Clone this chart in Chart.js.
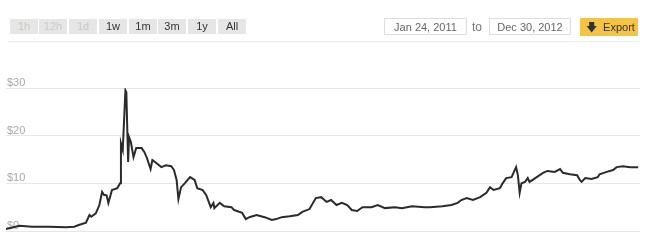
<!DOCTYPE html>
<html>
<head>
<meta charset="utf-8">
<script src="https://cdn.jsdelivr.net/npm/chart.js@4.4.1/dist/chart.umd.min.js"></script>
<style>
  html, body { margin:0; padding:0; background:#fff; width:651px; height:249px; overflow:hidden; font-family: Arial, "Liberation Sans", sans-serif; }
  #wrap { position:absolute; left:0; top:0; width:651px; height:249px; }
  .btn { position:absolute; top:19px; height:15px; width:28px; background:#e6e6e6; color:#333; font-size:11px; line-height:15px; text-align:center; }
  .btn.off { color:#c9c9c9; }
  .date { position:absolute; top:18px; border:1px solid #ddd; color:#666; font-size:11px; line-height:16px; text-align:center; background:#fff; box-sizing:border-box; height:17px; }
  #to { position:absolute; left:472px; top:19px; font-size:12px; color:#777; line-height:17px; }
  #export { position:absolute; left:580px; top:18px; width:58px; height:18px; background:#f6c444; color:#333; font-size:11px; line-height:18px; box-sizing:border-box; padding-left:6px; }
  #sep { position:absolute; left:8px; top:41px; width:632px; height:1px; background:#ececec; }
</style>
</head>
<body>
<div id="wrap"><canvas id="c" width="651" height="249"></canvas></div>
<div class="btn off" style="left:10px">1h</div>
<div class="btn off" style="left:39px">12h</div>
<div class="btn off" style="left:69px">1d</div>
<div class="btn" style="left:99px">1w</div>
<div class="btn" style="left:129px">1m</div>
<div class="btn" style="left:158px">3m</div>
<div class="btn" style="left:188px">1y</div>
<div class="btn" style="left:218px">All</div>
<div class="date" style="left:384px;width:83px">Jan 24, 2011</div>
<div id="to">to</div>
<div class="date" style="left:489px;width:82px">Dec 30, 2012</div>
<div id="export">&#129095;&nbsp; Export</div>
<div id="sep"></div>
<script>
// days since Jan 24, 2011 and price (USD)
const days = [0,15,29,48,67,76,81,89,93,95,100,104,107,109,112,114,118,124,127,128,130,133,134,135,136,137,139,142,145,151,154,157,161,163,167,173,178,184,187,190,192,195,199,205,210,213,219,223,228,231,232,238,243,251,254,263,267,271,279,288,296,301,307,316,325,330,338,345,351,357,362,368,374,380,385,391,397,407,414,422,433,441,452,466,472,486,496,503,507,513,520,528,535,539,543,550,553,557,563,568,570,572,574,578,581,583,591,598,603,611,617,620,628,636,639,641,645,652,659,661,669,676,680,687,695,704];
const prices = [0.42,1.1,0.9,0.9,0.78,0.9,1.25,1.75,3.35,3.0,3.7,5.45,8.2,7.6,7.5,5.9,8.6,9.0,10,18.4,17,29.5,29.1,21.8,14.5,19.7,18.7,15.5,17.4,17.4,16.6,15.3,13.0,14.9,14.3,13.4,13.8,13.6,12.8,10.7,6.7,9.2,10,11.3,10.7,9.0,8.6,7.5,5.0,5.9,4.8,5.9,5.2,5.0,4.4,3.8,2.5,2.9,3.35,2.9,2.3,2.5,2.9,3.1,3.35,4.0,4.6,6.9,7.1,6.1,6.5,5.45,5.9,5.45,4.4,4.2,5.0,5.0,5.45,4.8,5.0,4.8,5.2,5.0,5.0,5.2,5.45,5.9,6.5,6.9,6.5,7.1,8.0,9.2,8.6,9.0,10,11.1,11.3,13.4,11.7,8.0,10,10.3,11.1,10.3,11.3,12.2,12.6,12.4,13.0,12.2,11.9,11.7,10.7,10.3,11.1,10.9,11.3,11.9,12.4,12.8,13.4,13.6,13.4,13.4];
const yTicks = [0,10,20,30];

const points = days.map((d, i) => ({ x: d, y: prices[i] }));

new Chart(document.getElementById('c'), {
  type: 'line',
  data: { datasets: [{ data: points, borderColor:'#2b2b2b', borderWidth:2, pointRadius:0, tension:0, fill:false }] },
  options: {
    responsive:false, animation:false,
    layout: { padding: { left:6, right:11, top:88, bottom:18 } },
    plugins: { legend:{ display:false }, tooltip:{ enabled:false } },
    scales: {
      x: { type:'linear', min:0, max:706, display:false },
      y: {
        min:0, max:30,
        afterBuildTicks: axis => { axis.ticks = yTicks.map(v => ({ value:v })); },
        afterFit: axis => { axis.width = 0; },
        border: { display:false },
        grid: { color:'#e6e6e6', lineWidth:1, drawTicks:false },
        ticks: { mirror:true, padding:1, labelOffset:-5, color:'#a8a8a8', font:{ size:11, family:'Arial' }, callback: v => '$' + v }
      }
    }
  }
});
</script>
</body>
</html>
